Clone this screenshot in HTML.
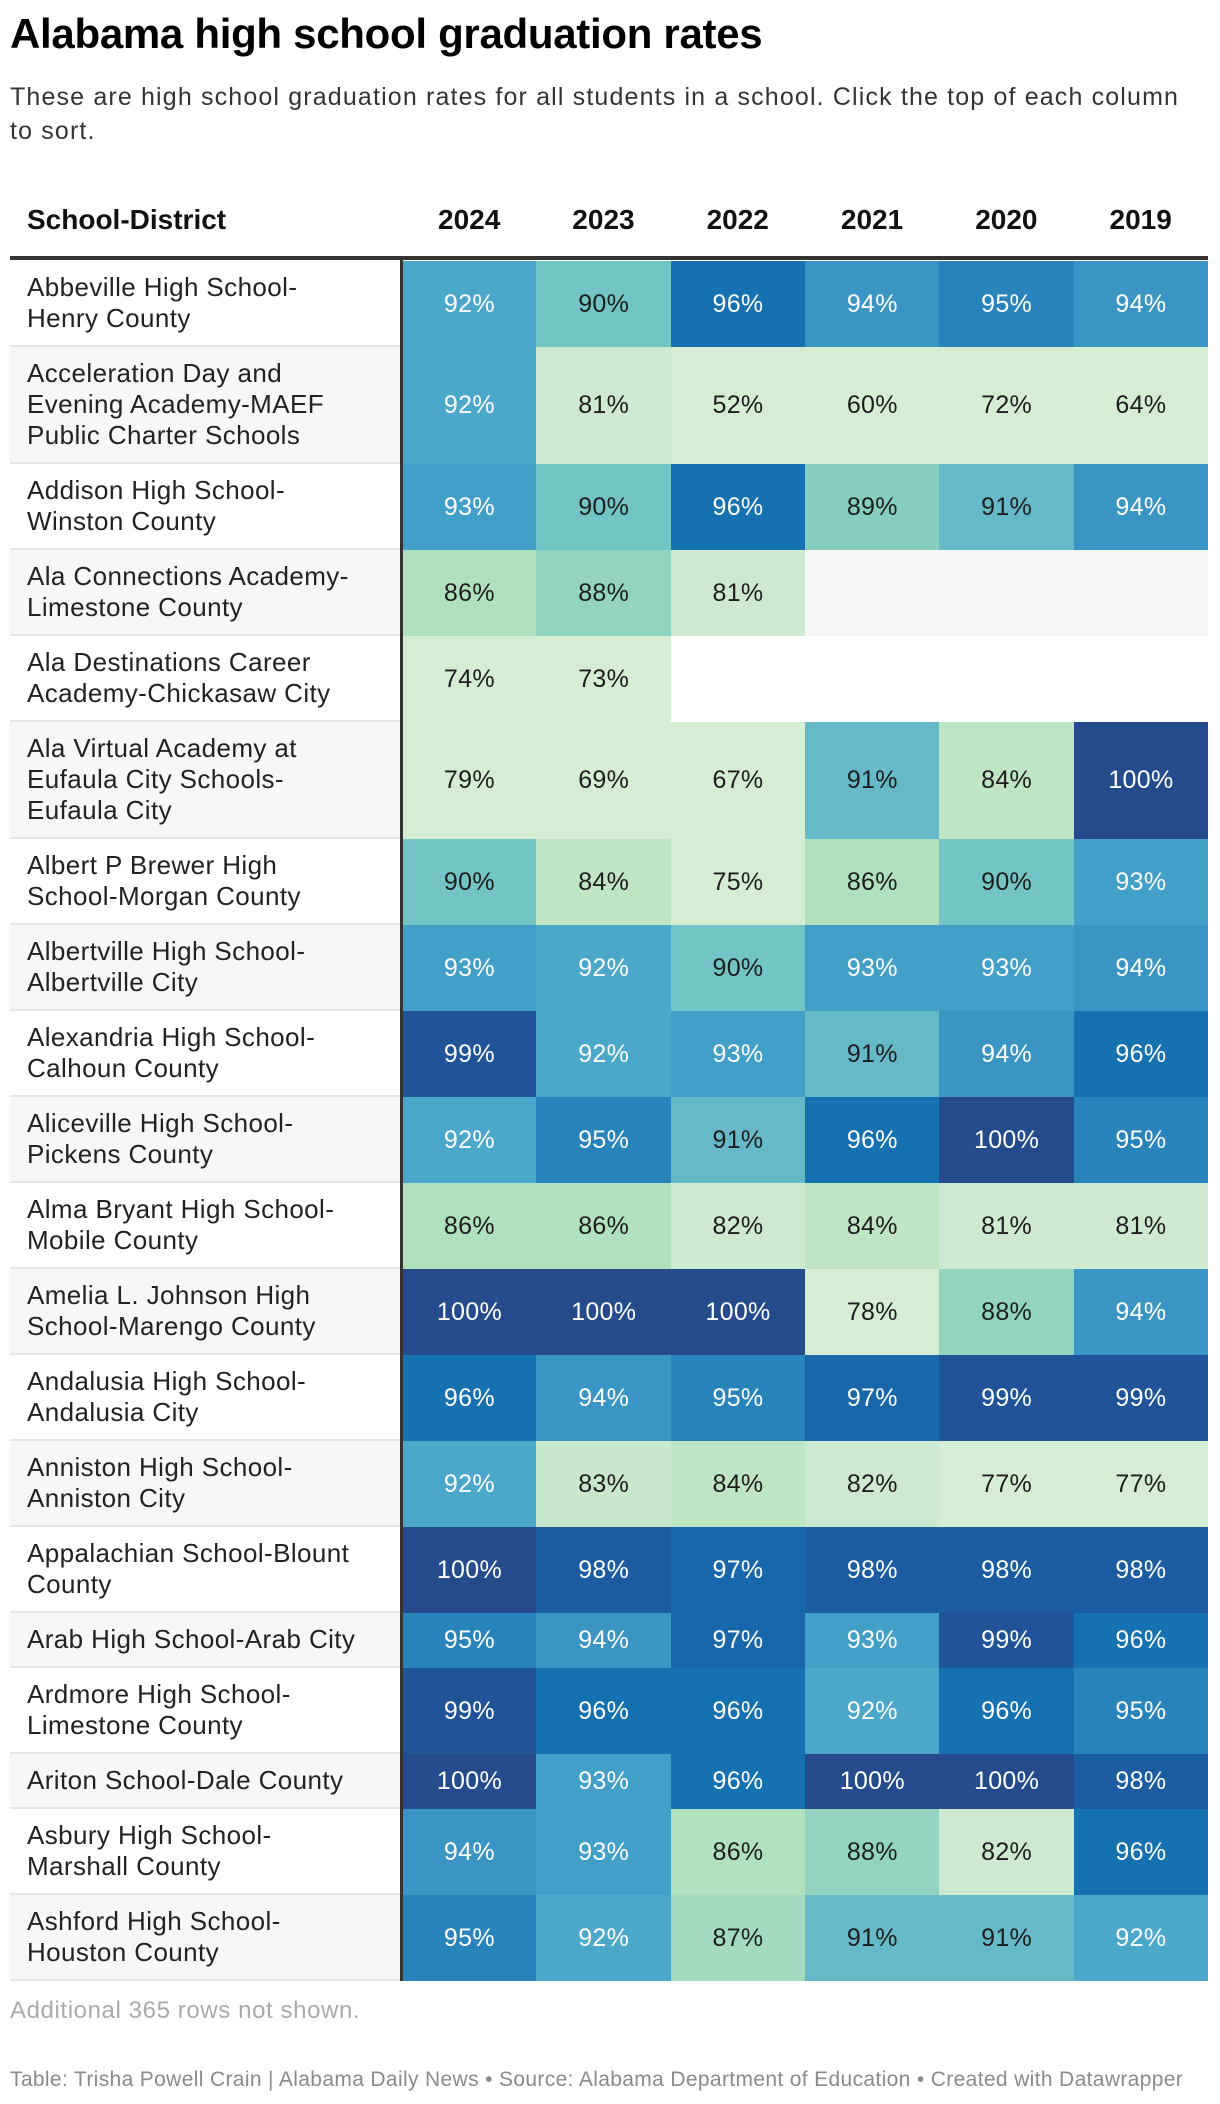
<!DOCTYPE html>
<html><head><meta charset="utf-8"><style>
body{margin:0;width:1220px;height:2104px;background:#fff;font-family:"Liberation Sans",sans-serif;color:#1d1d1d;position:relative;overflow:hidden}
.abs{position:absolute}
#title{left:10px;top:10px;font-size:42px;font-weight:bold;letter-spacing:-0.3px;color:#000}
#sub{left:10px;top:80px;font-size:25px;line-height:34px;color:#333;letter-spacing:1.15px;white-space:nowrap}
.hd{top:204px;font-size:28px;font-weight:bold;color:#111}
.lbl{font-size:26px;line-height:31px;color:#222;box-sizing:border-box;padding-left:17px;display:flex;align-items:center;letter-spacing:0.4px;white-space:nowrap}
.cell{font-size:25px;display:flex;align-items:center;justify-content:center;letter-spacing:0.3px}
</style></head><body>
<div id="title" class="abs">Alabama high school graduation rates</div>
<div id="sub" class="abs">These are high school graduation rates for all students in a school. Click the top of each column<br>to sort.</div>
<div id="table" class="abs" style="left:0;top:0;width:1220px;height:2104px"></div>
<div class="abs" style="left:10px;top:1997px;font-size:24px;letter-spacing:0.6px;color:#aaa">Additional 365 rows not shown.</div>
<div class="abs" style="left:10px;top:2068px;font-size:21px;letter-spacing:0.35px;color:#8a8a8a;white-space:nowrap">Table: Trisha Powell Crain | Alabama Daily News • Source: Alabama Department of Education • Created with Datawrapper</div>
<script>
const years=["2024","2023","2022","2021","2020","2019"];
const schools=[
["Abbeville High School-","Henry County"],
["Acceleration Day and","Evening Academy-MAEF","Public Charter Schools"],
["Addison High School-","Winston County"],
["Ala Connections Academy-","Limestone County"],
["Ala Destinations Career","Academy-Chickasaw City"],
["Ala Virtual Academy at","Eufaula City Schools-","Eufaula City"],
["Albert P Brewer High","School-Morgan County"],
["Albertville High School-","Albertville City"],
["Alexandria High School-","Calhoun County"],
["Aliceville High School-","Pickens County"],
["Alma Bryant High School-","Mobile County"],
["Amelia L. Johnson High","School-Marengo County"],
["Andalusia High School-","Andalusia City"],
["Anniston High School-","Anniston City"],
["Appalachian School-Blount","County"],
["Arab High School-Arab City"],
["Ardmore High School-","Limestone County"],
["Ariton School-Dale County"],
["Asbury High School-","Marshall County"],
["Ashford High School-","Houston County"]];
const v2024=[92,92,93,86,74,79,90,93,99,92,86,100,96,92,100,95,99,100,94,95];
const v2023=[90,81,90,88,73,69,84,92,92,95,86,100,94,83,98,94,96,93,93,92];
const v2022=[96,52,96,81,null,67,75,90,93,91,82,100,95,84,97,97,96,96,86,87];
const v2021=[94,60,89,null,null,91,86,93,91,96,84,78,97,82,98,93,92,100,88,91];
const v2020=[95,72,91,null,null,84,90,93,94,100,81,88,99,77,98,99,96,100,82,91];
const v2019=[94,64,94,null,null,100,93,94,96,95,81,94,99,77,98,96,95,98,96,92];
const series=[v2024,v2023,v2022,v2021,v2020,v2019];

function color(v){
  if(v>=100) return "#254b8c";
  const m={99:"#215399",98:"#1c5da1",97:"#1867aa",96:"#1571b0",95:"#2884bb",94:"#3b95c4",93:"#429fc8",92:"#4ba8ca",91:"#66b9c6",90:"#72c5c4",89:"#86cfc0",88:"#93d4c1",87:"#a4dbc0",86:"#b0e0bc",85:"#b8e3c0",84:"#bfe5c3",83:"#c8e8cb",82:"#cde9cf",81:"#cde9cf"};
  return m[v]||"#d4edd3";
}
const T=document.getElementById('table');
const L=10,LW=392,C0=402,CW=134.3,TOP=261;
function yX(i){return C0+CW*i;}
const h=document.createElement('div');h.className='abs hd';h.style.left='27px';h.textContent='School-District';


T.appendChild(h);
years.forEach((y,i)=>{const d=document.createElement('div');d.className='abs hd';d.style.left=yX(i)+'px';d.style.width=CW+'px';d.style.textAlign='center';d.textContent=y;


T.appendChild(d);});
const hl=document.createElement('div');hl.className='abs';hl.style.cssText='left:10px;top:256px;width:1198px;height:4px;background:#333';


T.appendChild(hl);
let y=TOP;
schools.forEach((s,r)=>{
  const hgt=24+31*s.length;
  const gray=r%2===1;
  const lb=document.createElement('div');lb.className='abs lbl';
  lb.style.cssText+=`left:${L}px;top:${y}px;width:${LW}px;height:${hgt-2}px;background:${gray?'#f7f7f7':'#fff'}`;
  lb.innerHTML=s.join('<br>');
  
  
  T.appendChild(lb);
  const sep=document.createElement('div');sep.className='abs';sep.style.cssText=`left:${L}px;top:${y+hgt-2}px;width:${LW}px;height:2px;background:#e6e6e6`;
  
  
  T.appendChild(sep);
  series.forEach((arr,i)=>{
    const v=arr[r];
    const c=document.createElement('div');c.className='abs cell';
    c.style.left=yX(i)+'px';c.style.top=y+'px';c.style.width=(CW+0.5)+'px';c.style.height=hgt+'px';
    if(v==null){c.style.background=gray?'#f7f7f7':'#fff';}
    else{c.style.background=color(v);c.style.color=v>=92?'#fff':'#1d1d1d';c.textContent=v+'%';}
    
    
    T.appendChild(c);
  });
  y+=hgt;
});
const vl=document.createElement('div');vl.className='abs';vl.style.cssText=`left:400px;top:258px;width:3px;height:${y-258}px;background:#333`;


T.appendChild(vl);
</script>
</body></html>
